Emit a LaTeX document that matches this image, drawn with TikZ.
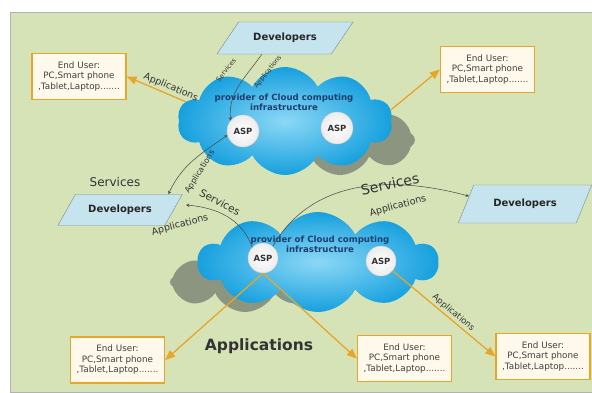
\documentclass[tikz,border=0pt]{standalone}
\usepackage{fontspec}
\setmainfont{DejaVu Sans}
\usepackage{tikz}
\usetikzlibrary{shapes,arrows,positioning,calc}

\definecolor{bggreen}{RGB}{213,227,182}
\definecolor{devblue}{RGB}{198,228,238}
\definecolor{devline}{RGB}{120,140,150}
\definecolor{cloudout}{RGB}{22,160,222}
\definecolor{cloudin}{RGB}{140,216,246}
\definecolor{shadowgray}{RGB}{128,136,118}
\definecolor{apporange}{RGB}{232,165,40}
\definecolor{usercream}{RGB}{255,249,236}
\definecolor{linegray}{RGB}{70,70,70}
\definecolor{provblue}{RGB}{30,62,110}

\begin{document}
\begin{tikzpicture}[x=1pt,y=1pt]
        \tikzstyle{dev}=[trapezium, trapezium stretches=true, trapezium left angle=50, trapezium right angle=130, draw=devline, fill=devblue, font=\bfseries\fontsize{10}{12}\selectfont, text=black!85]
        \tikzstyle{cloudy}=[cloud, cloud puffs=10, cloud puff arc=125, cloud ignores aspect, inner color=cloudin, outer color=cloudout]
        \tikzstyle{cloudshadow}=[cloud, cloud puffs=8, cloud puff arc=130, cloud ignores aspect, fill=shadowgray, opacity=0.85]
        \tikzstyle{provider}=[font=\bfseries\fontsize{8.6}{9.6}\selectfont, text=provblue, align=center, inner sep=0]
        \tikzstyle{asp}=[circle, draw=gray!40, inner color=white, outer color=gray!15, minimum size=32, inner sep=0, font=\bfseries\fontsize{8.5}{10}\selectfont, text=black!80]
        \tikzstyle{user}=[rectangle, draw=apporange, line width=1.4pt, fill=usercream, minimum width=94, minimum height=46, align=center, font=\fontsize{8.8}{10.5}\selectfont, text=black!75]
        \tikzstyle{app}=[->, >=triangle 45, draw=apporange, line width=1.3pt]
        \tikzstyle{conn}=[-stealth, draw=linegray, line width=0.5pt]
        \tikzstyle{lbl}=[text=black!80, inner sep=0]

        % Background
        \useasboundingbox (0,0) rectangle (592,-392);
        \fill[white] (0,0) rectangle (592,-392);
        \fill[bggreen, draw=gray!60] (10,-12) rectangle (592,-392);

        % Upper cloud
        \node (tshadow) [cloudshadow, minimum width=150, minimum height=70] at (340,-140) {};
        \node (tcloud) [cloudy, minimum width=215, minimum height=108] at (285,-121) {};
        \node (tprov) [provider] at (284,-102) {provider of Cloud computing\\infrastructure};
        \node (tasp1) [asp] at (243,-131) {ASP};
        \node (tasp2) [asp] at (337,-128) {ASP};

        % Lower cloud
        \node (bshadow) [cloudshadow, minimum width=150, minimum height=60] at (245,-282) {};
        \node (bcloud) [cloudy, minimum width=240, minimum height=100] at (318,-262) {};
        \node (bprov) [provider] at (320,-244) {provider of Cloud computing\\infrastructure};
        \node (basp1) [asp, minimum size=30] at (263,-258) {ASP};
        \node (basp2) [asp, minimum size=30] at (381,-261) {ASP};

        % Developers
        \node (tdev) [dev, minimum width=136, minimum height=32, trapezium left angle=45, trapezium right angle=135] at (285,-38) {Developers};
        \node (ldev) [dev, minimum width=125, minimum height=31] at (120,-210) {Developers};
        \node (rdev) [dev, minimum width=134, minimum height=38, trapezium left angle=57, trapezium right angle=123] at (525,-204) {Developers};
        \coordinate (ldevtip) at (186,-205);

        % End users
        \node (ubox1) [user] at (79,-76.5) {End User:\\PC,Smart phone\\,Tablet,Laptop.......};
        \node (ubox2) [user] at (487.5,-69.5) {End User:\\PC,Smart phone\\,Tablet,Laptop.......};
        \node (ubox3) [user] at (117.5,-360) {End User:\\PC,Smart phone\\,Tablet,Laptop.......};
        \node (ubox4) [user] at (404.5,-358.5) {End User:\\PC,Smart phone\\,Tablet,Laptop.......};
        \node (ubox5) [user] at (543,-356.5) {End User:\\PC,Smart phone\\,Tablet,Laptop.......};

        % Free texts
        \node (services) [lbl, font=\fontsize{12}{14}\selectfont] at (115,-182) {Services};
        \node (apps) [lbl, font=\bfseries\fontsize{15.5}{18}\selectfont] at (259,-346) {Applications};

        % Applications to end users
        \draw[app] (tcloud.169) -- (ubox1.east) node (lapp1) [pos=0.3, above=2pt, sloped, lbl, font=\fontsize{9.5}{11}\selectfont] {Applications};
        \draw[app] (tcloud.6) -- (ubox2.west);
        \draw[app] (basp1.south) -- (ubox3.east);
        \draw[app] (basp1.south) -- (ubox4.west);
        \draw[app] (basp2.-40) -- (ubox5.west) node (lapp2) [pos=0.55, above=2pt, sloped, lbl, font=\fontsize{8.5}{10}\selectfont] {Applications};

        % Developers and ASP
        \draw[conn] (tdev.215) to[out=235, in=95] (tasp1.140);
        \node (lsrv1) [lbl, rotate=52, font=\fontsize{6.5}{8}\selectfont] at (226,-70) {Services};
        \node (lapp3) [lbl, rotate=52, font=\fontsize{6.5}{8}\selectfont] at (268,-72) {Applications};

        \draw[conn, stealth-stealth] (tasp1.195) to[out=215, in=65] (ldev.18);
        \node (lapp4) [lbl, rotate=58, font=\fontsize{8}{9}\selectfont] at (200,-172) {Applications};

        \draw[conn] (basp1.135) to[out=110, in=-5] (ldevtip);
        \node (lsrv2) [lbl, rotate=-28, font=\fontsize{10.5}{12}\selectfont] at (220,-202) {Services};
        \node (lapp5) [lbl, rotate=15, font=\fontsize{9.5}{11}\selectfont] at (180,-225) {Applications};

        \draw[conn] (basp1.50) to[out=60, in=165] (rdev.172);
        \node (lsrv3) [lbl, rotate=12, font=\fontsize{14}{16}\selectfont] at (390,-184) {Services};
        \node (lapp6) [lbl, rotate=15, font=\fontsize{9.5}{11}\selectfont] at (398,-206) {Applications};
    \end{tikzpicture}
\end{document}
